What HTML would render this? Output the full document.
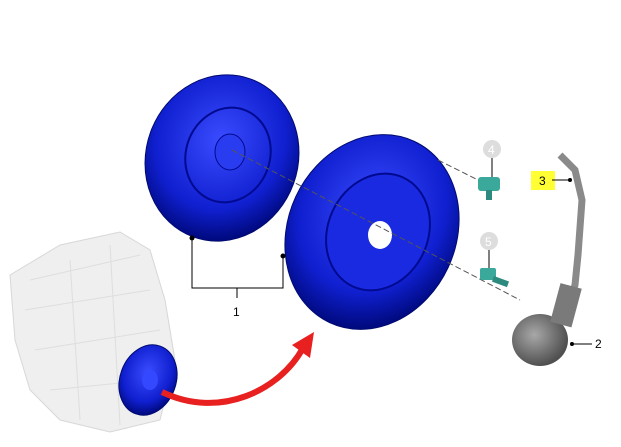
<!DOCTYPE html>
<html><head><meta charset="utf-8"><style>
html,body{margin:0;padding:0;background:#fff;}
svg{display:block;font-family:"Liberation Sans",sans-serif;}
</style></head><body>
<svg width="621" height="447" viewBox="0 0 621 447">
<defs>
<radialGradient id="bl" cx="45%" cy="40%" r="60%"><stop offset="0" stop-color="#3a4cff"/><stop offset="0.7" stop-color="#1020d0"/><stop offset="1" stop-color="#000a80"/></radialGradient>
<radialGradient id="gr" cx="40%" cy="40%" r="60%"><stop offset="0" stop-color="#a8a8a8"/><stop offset="1" stop-color="#505050"/></radialGradient>
</defs>
<!-- engine -->
<g opacity="0.55">
<path d="M10,275 L60,245 L120,232 L150,250 L165,300 L175,360 L160,420 L110,432 L60,420 L30,390 L15,340 Z" fill="#e2e2e2" stroke="#b8b8b8"/>
<path d="M30,280 L140,255 M25,310 L150,290 M35,350 L160,330 M50,390 L150,380 M70,260 L80,420 M110,245 L120,425" stroke="#c4c4c4" fill="none"/>
</g>
<g>
<ellipse cx="148" cy="380" rx="28" ry="36" transform="rotate(20 148 380)" fill="url(#bl)" stroke="#000a70"/>
<ellipse cx="150" cy="380" rx="8" ry="10" fill="#3448ff"/>
</g>
<path d="M162,392 C220,420 280,390 303,348" stroke="#e82020" stroke-width="6" fill="none"/>
<polygon points="292,345 314,332 310,358" fill="#e82020"/>
<!-- flywheel -->
<g>
<ellipse cx="222" cy="158" rx="76" ry="84" transform="rotate(20 222 158)" fill="url(#bl)" stroke="#000a70"/>
<ellipse cx="228" cy="155" rx="42" ry="48" transform="rotate(20 228 155)" fill="none" stroke="#000a90" stroke-width="2"/>
<ellipse cx="230" cy="152" rx="15" ry="18" fill="#2a3cf0" stroke="#000a90"/>
</g>
<!-- pressure plate -->
<g>
<ellipse cx="372" cy="232" rx="84" ry="100" transform="rotate(25 372 232)" fill="url(#bl)" stroke="#000a70"/>
<ellipse cx="378" cy="232" rx="50" ry="60" transform="rotate(25 378 232)" fill="#1a2ae0" stroke="#000a90" stroke-width="2"/>
<ellipse cx="380" cy="235" rx="12" ry="14" fill="#fff"/>
</g>
<!-- centerline dashes -->
<path d="M232,150 L520,300" stroke="#555" stroke-dasharray="6,3" fill="none"/>
<path d="M438,160 L478,180" stroke="#555" stroke-dasharray="6,3"/>
<!-- bolts -->
<g><rect x="478" y="177" width="22" height="14" rx="3" fill="#3aa89a"/><rect x="486" y="190" width="6" height="10" fill="#2c8a7e"/></g>
<g><rect x="480" y="268" width="16" height="12" rx="2" fill="#3aa89a"/><rect x="494" y="276" width="16" height="6" fill="#2c8a7e" transform="rotate(20 494 276)"/></g>
<!-- hydraulic line & slave cylinder -->
<path d="M560,155 L575,170 L582,200 L578,255 L575,285 L570,300" stroke="#8a8a8a" stroke-width="7" fill="none"/>
<ellipse cx="540" cy="340" rx="28" ry="26" fill="url(#gr)"/>
<rect x="555" y="285" width="22" height="40" fill="#7a7a7a" transform="rotate(15 565 305)"/>
<!-- leader lines & labels -->
<path d="M192,238 L192,288 L283,288 L283,256 M237,288 L237,298" stroke="#000" fill="none"/>
<circle cx="192" cy="238" r="2.5" fill="#000"/><circle cx="283" cy="256" r="2.5" fill="#000"/>
<text x="233" y="316" font-size="12">1</text>
<path d="M572,344 L592,344" stroke="#000"/><circle cx="572" cy="344" r="2" fill="#000"/>
<text x="595" y="348" font-size="12">2</text>
<rect x="531" y="171" width="24" height="19" fill="#ffff33"/>
<path d="M552,180 L570,180" stroke="#000"/><circle cx="570" cy="180" r="2" fill="#000"/>
<text x="539" y="185" font-size="12">3</text>
<circle cx="492" cy="149" r="9" fill="#ddd"/><text x="488" y="154" font-size="12" fill="#fff">4</text>
<path d="M492,158 L492,177" stroke="#000"/>
<circle cx="489" cy="241" r="9" fill="#ddd"/><text x="485" y="246" font-size="12" fill="#fff">5</text>
<path d="M489,250 L489,268" stroke="#000"/>
</svg>
</body></html>
